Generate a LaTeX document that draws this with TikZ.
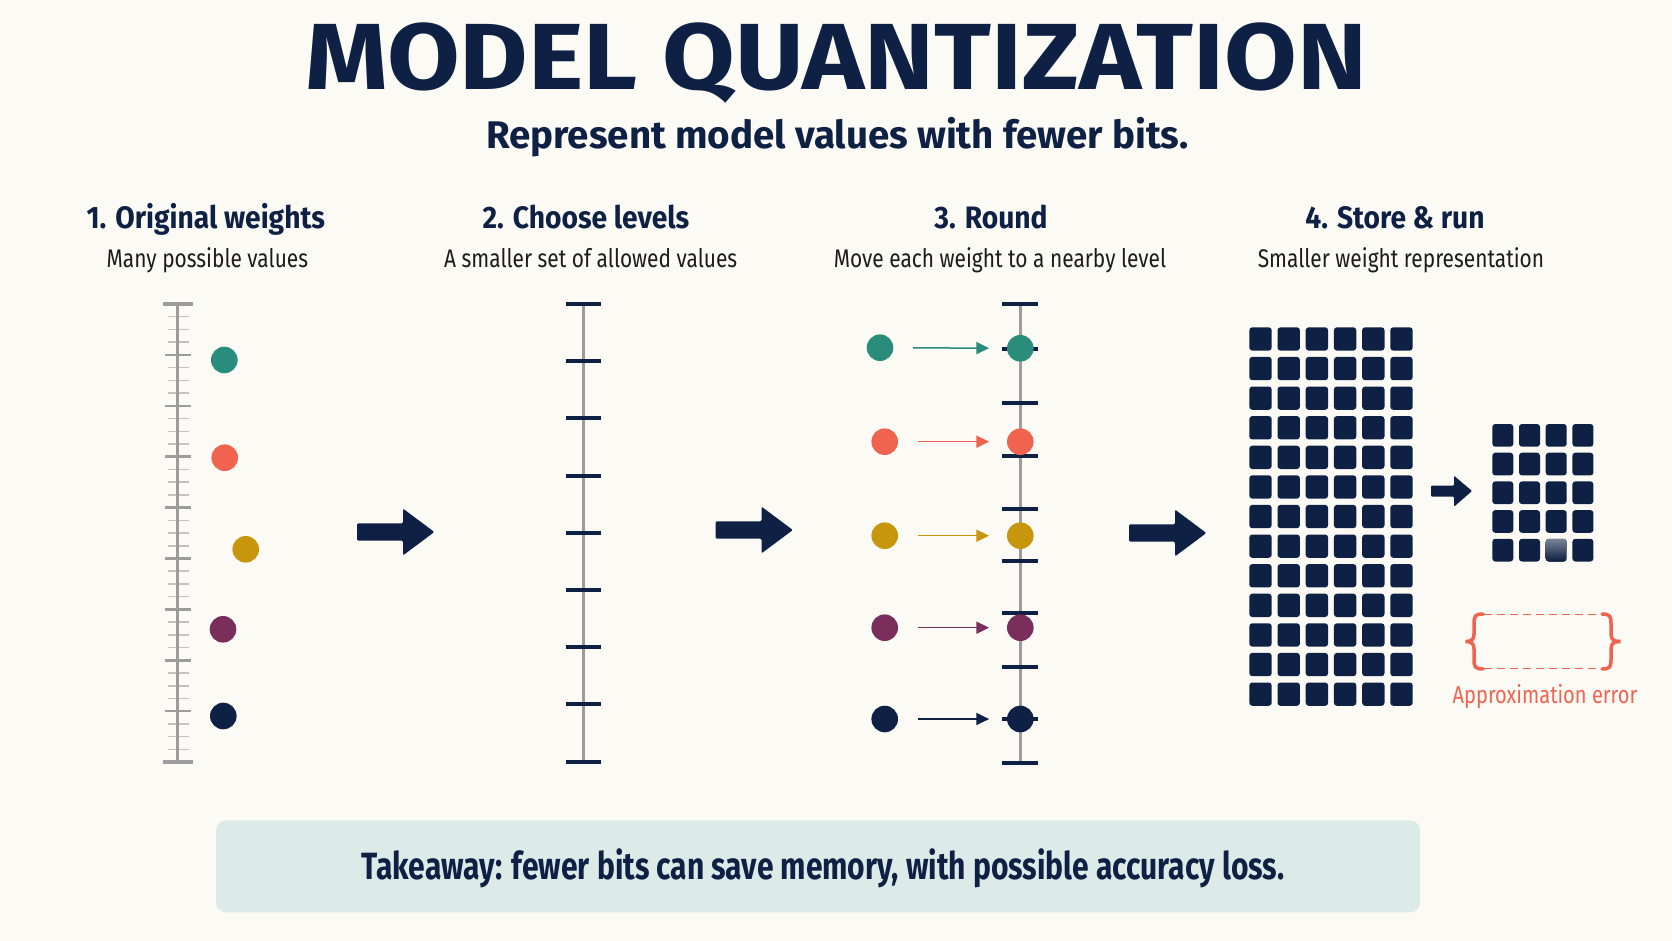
\documentclass[tikz,border=0pt]{standalone}
\usepackage{fontspec}
\setmainfont{Fira Sans}
\newfontfamily\condfont[FakeStretch=0.82]{Fira Sans}
\newfontfamily\headfont[FakeStretch=0.91]{Fira Sans}
\newfontfamily\takefont[FakeStretch=0.79]{Fira Sans}
\newfontfamily\widefont[FakeStretch=1.12]{Fira Sans}
\usetikzlibrary{arrows.meta}

\definecolor{bgc}{HTML}{FBFAF5}
\definecolor{navyc}{HTML}{0E2044}
\definecolor{tealc}{HTML}{2A8C7A}
\definecolor{coralc}{HTML}{F0644F}
\definecolor{mustc}{HTML}{C8960C}
\definecolor{plumc}{HTML}{7A2E5C}
\definecolor{rulec}{HTML}{9C9C9C}
\definecolor{minorc}{HTML}{C2C2C2}
\definecolor{boxc}{HTML}{DDEBE8}
\definecolor{inkc}{HTML}{1C1C1C}

\begin{document}
\begin{tikzpicture}[x=1pt, y=-1pt,
  head/.style = {anchor=base, inner sep=0, text=navyc,
                 font=\headfont\bfseries\fontsize{31}{34}\selectfont},
  sub/.style  = {anchor=base, inner sep=0, text=inkc,
                 font=\condfont\fontsize{25.5}{28}\selectfont},
  dot/.style  = {circle, inner sep=0, minimum size=26.6pt},
  axis/.style = {rulec, line width=2.7},
  lvl/.style  = {navyc, line width=4},
  conn/.style = {line width=1.5, shorten <=19.5pt, shorten >=17.7pt,
                 -{Triangle[length=12.7pt, width=12pt]}},
  cell/.style = {navyc, rounded corners=3},
  bigarr/.pic = {\fill[navyc, rounded corners=1.2]
    (0,-8.7) -- (46,-8.7) -- (46,-23.4) -- (77.3,0) -- (46,23.4)
    -- (46,8.7) -- (0,8.7) -- cycle;},
]

\fill[bgc] (0,0) rectangle (1672,941);
\useasboundingbox (0,0) rectangle (1672,941);

% ========== Title ==========
\node[anchor=base, inner sep=0, text=navyc,
      font=\widefont\bfseries\fontsize{94}{100}\selectfont]
  (title) at (836,90) {MODEL QUANTIZATION};
\node[anchor=base, inner sep=0, text=navyc,
      font=\bfseries\fontsize{38.5}{42}\selectfont]
  (subtitle) at (837.5,149) {Represent model values with fewer bits.};

% ========== Column headers ==========
\node[head] (h1) at (205.8,228.3) {1. Original weights};
\node[sub]  (s1) at (207.4,267.7) {Many possible values};
\node[head] (h2) at (586,228.3)   {2. Choose levels};
\node[sub]  (s2) at (590.7,267.7) {A smaller set of allowed values};
\node[head] (h3) at (991,228.3)   {3. Round};
\node[sub]  (s3) at (1000,267.7)  {Move each weight to a nearby level};
\node[head] (h4) at (1395,228.3)  {4. Store \& run};
\node[sub]  (s4) at (1401,267.7)  {Smaller weight representation};

% ========== 1. fine ruler with weights ==========
\foreach \j in {0,...,8}
  \foreach \k in {1,2,3}
    \draw[minorc, line width=1.5] (168,{304+\j*50.9+\k*12.725}) -- (189,{304+\j*50.9+\k*12.725});
\foreach \j in {1,...,8}
  \draw[rulec, line width=2.5] (165,{304+\j*50.9}) -- (191,{304+\j*50.9});
\draw[axis] (177.7,304) -- (177.7,762);
\draw[rulec, line width=3.3] (163,304) -- (193,304);
\draw[rulec, line width=3.3] (163,762) -- (193,762);

\node[dot, fill=tealc]  (w1) at (224.3,360)   {};
\node[dot, fill=coralc] (w2) at (224.7,457.7) {};
\node[dot, fill=mustc]  (w3) at (245.7,549.3) {};
\node[dot, fill=plumc]  (w4) at (223,629.3)   {};
\node[dot, fill=navyc]  (w5) at (223.3,716)   {};

\pic at (357,532) {bigarr};

% ========== 2. coarse levels ==========
\draw[axis] (583.3,304) -- (583.3,761.7);
\foreach \i in {0,...,8}
  \draw[lvl] (566,{304+\i*57.21}) -- (601,{304+\i*57.21});

\pic at (715.5,530) {bigarr};

% ========== 3. rounding ==========
\draw[axis] (1020.3,304) -- (1020.3,762.7);
\foreach \y in {304,349.3,402.7,455.7,509.3,561,613.3,666.7,719.3,762.7}
  \draw[lvl] (1002,\y) -- (1038,\y);

\node[dot, fill=tealc]  (l1) at (880,347.7)   {};
\node[dot, fill=coralc] (l2) at (884.7,441.7) {};
\node[dot, fill=mustc]  (l3) at (884.7,535.7) {};
\node[dot, fill=plumc]  (l4) at (884.7,627.7) {};
\node[dot, fill=navyc]  (l5) at (884.7,719)   {};

\node[dot, fill=tealc]  (r1) at (1020.3,348.3) {};
\node[dot, fill=coralc] (r2) at (1020.3,441.7) {};
\node[dot, fill=mustc]  (r3) at (1020.3,535.7) {};
\node[dot, fill=plumc]  (r4) at (1020.3,627.7) {};
\node[dot, fill=navyc]  (r5) at (1020.3,719)   {};

\foreach \i/\c in {1/tealc,2/coralc,3/mustc,4/plumc,5/navyc}
  \draw[conn, \c] (l\i) -- (r\i);

\pic at (1129,533) {bigarr};

% ========== 4. store & run ==========
\foreach \c in {0,...,5}
  \foreach \r in {0,...,12}
    \fill[cell] ({1249.3+\c*28.2},{327.3+\r*29.6}) rectangle ++(22.4,23.3);

\fill[navyc, rounded corners=1]
  (1431,485.7) -- (1454,485.7) -- (1454,475.7) -- (1472,491)
  -- (1454,506.7) -- (1454,496.7) -- (1431,496.7) -- cycle;

\foreach \c in {0,...,3}
  \foreach \r in {0,...,4}
    \fill[cell] ({1492.3+\c*26.7},{424+\r*28.7}) rectangle ++(21,22.7);
\shade[rounded corners=3, top color=navyc!55!white, bottom color=navyc!90!black]
  ({1492.3+2*26.7},{424+4*28.7}) rectangle ++(21,22.7);

% approximation error bracket
\draw[coralc, line width=1.2, dash pattern=on 8pt off 5pt] (1484,614.5) -- (1601,614.5);
\draw[coralc, line width=1.2, dash pattern=on 8pt off 5pt] (1484,668.5) -- (1601,668.5);
\draw[coralc, line width=3.5, line cap=round]
  (1483,614) .. controls (1475,614) and (1474,616) .. (1474,624) -- (1474,634)
  .. controls (1474,640) and (1471,641.5) .. (1465.5,641.5)
  .. controls (1471,641.5) and (1474,643) .. (1474,649) -- (1474,659)
  .. controls (1474,667) and (1475,669) .. (1483,669);
\draw[coralc, line width=3.5, line cap=round]
  (1602,614) .. controls (1610,614) and (1611,616) .. (1611,624) -- (1611,634)
  .. controls (1611,640) and (1614,641.5) .. (1620.5,641.5)
  .. controls (1614,641.5) and (1611,643) .. (1611,649) -- (1611,659)
  .. controls (1611,667) and (1610,669) .. (1602,669);
\node[anchor=base, inner sep=0, text=coralc,
      font=\condfont\fontsize{24.5}{27}\selectfont]
  (err) at (1545,703.3) {Approximation error};

% ========== Takeaway ==========
\node[fill=boxc, rounded corners=10, minimum width=1204pt, minimum height=92pt,
      inner sep=0] (take) at (818,866.4) {};
\node[anchor=base, inner sep=0, text=navyc,
      font=\takefont\bfseries\fontsize{38}{42}\selectfont]
  (taketxt) at (823,879.3) {Takeaway: fewer bits can save memory, with possible accuracy loss.};

\end{tikzpicture}
\end{document}
